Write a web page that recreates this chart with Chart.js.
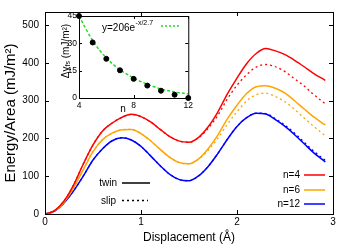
<!DOCTYPE html>
<html>
<head>
<meta charset="utf-8">
<script src="https://cdn.jsdelivr.net/npm/chart.js@4.4.0/dist/chart.umd.min.js"></script>
<style>
  html, body { margin: 0; padding: 0; background: #fff; }
  #wrap { position: relative; width: 350px; height: 245px; }
  #mainBox { position: absolute; left: 0; top: 0; width: 350px; height: 245px; }
  #insetBox { position: absolute; left: 56px; top: 8px; width: 140px; height: 106px; }
</style>
</head>
<body>
<div id="wrap">
  <div id="mainBox"><canvas id="main"></canvas></div>
  <div id="insetBox"><canvas id="inset"></canvas></div>
</div>
<script>
// main plot data (displacement in Å, energy in mJ/m^2)
const displacement = [0, 0.1, 0.2, 0.3, 0.4, 0.5, 0.6, 0.7, 0.8, 0.9, 1.0, 1.1, 1.2, 1.3, 1.4, 1.5,
    1.6, 1.7, 1.8, 1.9, 2.0, 2.1, 2.2, 2.3, 2.4, 2.5, 2.6, 2.7, 2.8, 2.9, 2.92];
const twinN4  = [0, 9, 35, 78, 133, 183, 220, 241, 256, 264, 258, 244, 224, 205, 193, 190,
    203, 231, 270, 318, 360, 398, 425, 438, 432, 422, 407, 390, 372, 357, 354];
const slipN4  = [0, 9, 35, 78, 133, 183, 220, 241, 256, 264, 258, 244, 224, 205, 193, 190,
    202, 227, 261, 305, 341, 369, 389, 396, 390, 377, 358, 339, 316, 296, 292];
const twinN6  = [0, 8, 32, 70, 118, 165, 197, 214, 223, 224, 213, 194, 171, 150, 136, 133,
    146, 173, 209, 252, 288, 319, 337, 340, 333, 320, 300, 278, 257, 239, 236];
const slipN6  = [0, 8, 32, 70, 118, 165, 197, 214, 223, 224, 213, 194, 171, 150, 136, 133,
    145, 169, 200, 238, 271, 299, 316, 320, 311, 297, 277, 254, 232, 211, 207];
const twinN12 = [0, 8, 30, 62, 101, 143, 173, 194, 202, 196, 179, 154, 128, 105, 91, 88,
    101, 126, 160, 198, 232, 255, 267, 265, 250, 232, 210, 186, 162, 142, 138];
const slipN12 = [0, 8, 30, 62, 101, 143, 173, 194, 202, 196, 179, 154, 128, 105, 91, 88,
    101, 126, 160, 198, 232, 255, 267, 266, 252, 235, 214, 190, 166, 146, 142];
const xTicks = [0, 1, 2, 3];
const yTicks = [0, 100, 200, 300, 400, 500];

// inset data
const insetN   = [4, 5, 6, 7, 8, 9, 10, 11, 12];
const insetGap = [45, 30.5, 21.5, 15.2, 10.5, 6.8, 4.0, 1.8, 0];
const fitN     = [4, 5, 6, 7, 8, 9, 10, 11, 12];
const fitGap   = [45, 31.5, 22, 15.5, 11, 7.5, 5, 3.3, 2.2];
const insetXTicks = [4, 8, 12];
const insetYTicks = [0, 15, 30, 45];

const RED = '#ff0000', ORANGE = '#ffa500', BLUE = '#0000ff', GREEN = '#22dd22';
const SLIP_DASH = [2, 3];

Chart.defaults.font.family = '"Liberation Sans", Arial, Helvetica, sans-serif';
Chart.defaults.color = '#000';

const pts = ys => displacement.map((x, i) => ({ x: x, y: ys[i] }));

// box round the plot, with inward ticks on all four sides
const frameTicks = {
    id: 'frameTicks',
    afterDatasetsDraw(chart, args, opts) {
        const { ctx, chartArea: a } = chart;
        const sx = chart.scales.x, sy = chart.scales.y;
        ctx.save();
        ctx.strokeStyle = '#000';
        ctx.lineWidth = 1;
        ctx.beginPath();
        sx.ticks.forEach(t => {
            const p = Math.round(sx.getPixelForValue(t.value)) + 0.5;
            ctx.moveTo(p, a.bottom); ctx.lineTo(p, a.bottom - opts.len);
            ctx.moveTo(p, a.top); ctx.lineTo(p, a.top + opts.len);
        });
        sy.ticks.forEach(t => {
            const p = Math.round(sy.getPixelForValue(t.value)) + 0.5;
            ctx.moveTo(a.left, p); ctx.lineTo(a.left + opts.len, p);
            ctx.moveTo(a.right, p); ctx.lineTo(a.right - opts.len, p);
        });
        ctx.stroke();
        ctx.strokeRect(a.left + 0.5, a.top + 0.5, a.right - a.left, a.bottom - a.top);
        ctx.restore();
    }
};

// the two keys of the main plot
const mainKey = {
    id: 'mainKey',
    afterDraw(chart) {
        const ctx = chart.ctx;
        ctx.save();
        ctx.font = '10px "Liberation Sans", Arial, sans-serif';
        ctx.fillStyle = '#000';
        ctx.textAlign = 'right';
        ctx.textBaseline = 'middle';

        const line = (x1, x2, y, color, dash) => {
            ctx.beginPath();
            ctx.strokeStyle = color;
            ctx.lineWidth = dash ? 1.3 : 1.5;
            ctx.setLineDash(dash || []);
            ctx.moveTo(x1, y); ctx.lineTo(x2, y);
            ctx.stroke();
            ctx.setLineDash([]);
        };

        ctx.fillText('twin', 117, 183);
        line(122, 150, 183, '#000');
        ctx.fillText('slip', 116, 201);
        line(122, 148, 200.5, '#000', SLIP_DASH);

        [['n=4', RED, 175], ['n=6', ORANGE, 190], ['n=12', BLUE, 204]].forEach(k => {
            ctx.fillStyle = '#000';
            ctx.fillText(k[0], 300, k[2]);
            line(304, 325, k[2], k[1]);
        });
        ctx.restore();
    }
};

const curve = (ys, color, slip) => ({
    data: pts(ys),
    borderColor: color,
    borderWidth: slip ? 1.3 : 1.5,
    borderDash: slip ? SLIP_DASH : [],
    pointRadius: 0,
    cubicInterpolationMode: 'monotone',
    fill: false
});

new Chart(document.getElementById('main'), {
    type: 'line',
    data: {
        datasets: [
            curve(twinN4, RED), curve(twinN6, ORANGE), curve(twinN12, BLUE),
            curve(slipN4, RED, true), curve(slipN6, ORANGE, true), curve(slipN12, BLUE, true)
        ]
    },
    options: {
        responsive: true,
        maintainAspectRatio: false,
        animation: false,
        layout: { padding: { left: 0, right: 17, top: 8, bottom: 0 } },
        scales: {
            x: {
                type: 'linear', min: 0, max: 3,
                grid: { display: false, drawTicks: false },
                border: { display: false },
                ticks: { font: { size: 10 }, padding: 2, maxRotation: 0 },
                afterBuildTicks: s => { s.ticks = xTicks.map(v => ({ value: v })); },
                afterFit: s => { s.height = 31; },
                title: { display: true, text: 'Displacement (Å)', font: { size: 12 }, padding: { top: 0, bottom: 0 } }
            },
            y: {
                type: 'linear', min: 0, max: 535,
                grid: { display: false, drawTicks: false },
                border: { display: false },
                ticks: { font: { size: 10 }, padding: 6 },
                afterBuildTicks: s => { s.ticks = yTicks.map(v => ({ value: v })); },
                afterFit: s => { s.width = 45; },
                title: { display: true, text: 'Energy/Area (mJ/m²)', font: { size: 15 }, padding: { top: 2, bottom: 0 } }
            }
        },
        plugins: {
            legend: { display: false },
            tooltip: { enabled: false },
            frameTicks: { len: 4 }
        }
    },
    plugins: [frameTicks, mainKey]
});

// inset: labels and fit key
const insetText = {
    id: 'insetText',
    afterDraw(chart) {
        const ctx = chart.ctx;
        ctx.save();
        ctx.fillStyle = '#000';
        ctx.textBaseline = 'middle';

        // rotated y label with subscript
        ctx.translate(10, 43);
        ctx.rotate(-Math.PI / 2);
        const big = '10px "Liberation Sans", Arial, sans-serif';
        const small = '7px "Liberation Sans", Arial, sans-serif';
        const parts = [['Δγ', big, 0], ['fs', small, 2.5], [' (mJ/m²)', big, 0]];
        let total = 0;
        parts.forEach(p => { ctx.font = p[1]; total += ctx.measureText(p[0]).width; });
        let x = -total / 2;
        ctx.textAlign = 'left';
        parts.forEach(p => {
            ctx.font = p[1];
            ctx.fillText(p[0], x, p[2]);
            x += ctx.measureText(p[0]).width;
        });
        ctx.setTransform(1, 0, 0, 1, 0, 0);

        // x label
        ctx.font = big;
        ctx.textAlign = 'center';
        ctx.fillText('n', 67, 101);

        // fit key
        ctx.textAlign = 'left';
        ctx.font = big;
        ctx.fillText('y=206e', 46, 20.5);
        const w = ctx.measureText('y=206e').width;
        ctx.font = small;
        ctx.fillText('-x/2.7', 46 + w + 0.5, 15.5);
        ctx.beginPath();
        ctx.strokeStyle = GREEN;
        ctx.lineWidth = 1.5;
        ctx.setLineDash([2, 2]);
        ctx.moveTo(105, 18); ctx.lineTo(124, 18);
        ctx.stroke();
        ctx.restore();
    }
};

new Chart(document.getElementById('inset'), {
    type: 'scatter',
    data: {
        datasets: [
            {
                data: insetN.map((n, i) => ({ x: n, y: insetGap[i] })),
                backgroundColor: '#000',
                borderColor: '#000',
                pointRadius: 2.5,
                clip: false
            },
            {
                data: fitN.map((n, i) => ({ x: n, y: fitGap[i] })),
                showLine: true,
                borderColor: GREEN,
                borderWidth: 1.5,
                borderDash: [3, 2],
                pointRadius: 0,
                cubicInterpolationMode: 'monotone'
            }
        ]
    },
    options: {
        responsive: true,
        maintainAspectRatio: false,
        animation: false,
        layout: { padding: { left: 0, right: 6, top: 8, bottom: 0 } },
        scales: {
            x: {
                type: 'linear', min: 4, max: 12,
                grid: { display: false, drawTicks: false },
                border: { display: false },
                ticks: { font: { size: 8.5 }, padding: 3, maxRotation: 0 },
                afterBuildTicks: s => { s.ticks = insetXTicks.map(v => ({ value: v })); },
                afterFit: s => { s.height = 16; }
            },
            y: {
                type: 'linear', min: 0, max: 45,
                grid: { display: false, drawTicks: false },
                border: { display: false },
                ticks: { font: { size: 8.5 }, padding: 2 },
                afterBuildTicks: s => { s.ticks = insetYTicks.map(v => ({ value: v })); },
                afterFit: s => { s.width = 23; }
            }
        },
        plugins: {
            legend: { display: false },
            tooltip: { enabled: false },
            frameTicks: { len: 3 }
        }
    },
    plugins: [frameTicks, insetText]
});
</script>
</body>
</html>
